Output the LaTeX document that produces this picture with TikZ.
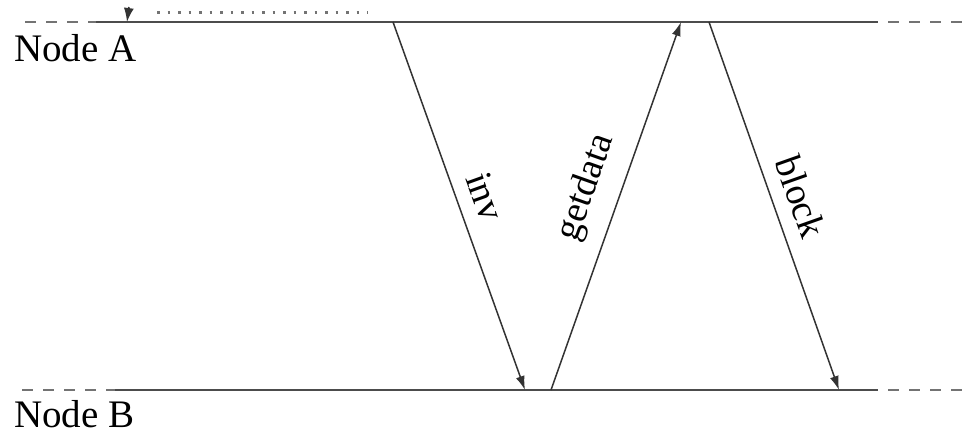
\documentclass[tikz,border=0pt]{standalone}
\usepackage{fontspec}
\setmainfont{Liberation Serif}
\usetikzlibrary{arrows.meta}
\begin{document}
\begin{tikzpicture}[x=1pt,y=-1pt,
  lane/.style={line width=2pt,draw=black!70},
  lanedash/.style={line width=2pt,draw=black!55,dash pattern=on 11pt off 10pt},
  msg/.style={line width=1.5pt,draw=black!80,-{Latex[length=14pt,width=9pt]}},
  lbl/.style={font=\fontsize{38}{44}\selectfont,inner sep=0pt,sloped,above=14pt},
  nlabel/.style={font=\fontsize{39}{46}\selectfont,inner sep=0pt,anchor=west}]
\useasboundingbox (0,0) rectangle (971,436);
% lanes
\coordinate (a0) at (25,22);  \coordinate (a1) at (96,22);
\coordinate (a2) at (878,22); \coordinate (a3) at (971,22);
\coordinate (b0) at (22,390); \coordinate (b1) at (115,390);
\coordinate (b2) at (878,390); \coordinate (b3) at (971,390);
\draw[lanedash] (a0) -- (a1);
\draw[lane] (a1) -- (a2);
\draw[lanedash] ([xshift=10pt]a2) -- (a3);
\draw[lanedash] (b0) -- (b1);
\draw[lane] (b1) -- (b2);
\draw[lanedash] ([xshift=10pt]b2) -- (b3);
\node[nlabel] (na) at (14,48) {Node A};
\node[nlabel] (nb) at (14,414) {Node B};
% top-left partial arrow and dotted line
\coordinate (p0) at (129,7); \coordinate (p1) at (127,22);
\draw[msg,-{Latex[length=14pt,width=10pt]}] (p0) -- (p1);
\coordinate (d0) at (157,13); \coordinate (d1) at (368,13);
\draw[line width=3pt,draw=black!55,dash pattern=on 2.5pt off 8pt] (d0) -- (d1);
% messages
\coordinate (i0) at (393,22); \coordinate (i1) at (525,390);
\coordinate (g0) at (551,390); \coordinate (g1) at (681,22);
\coordinate (k0) at (709,22); \coordinate (k1) at (839,390);
\draw[msg] (i0) -- node[lbl,pos=0.5] (linv) {inv} (i1);
\draw[msg] (g0) -- node[lbl,pos=0.52,above=2pt] (lget) {getdata} (g1);
\draw[msg] (k0) -- node[lbl,pos=0.5] (lblk) {block} (k1);
\end{tikzpicture}
\end{document}
